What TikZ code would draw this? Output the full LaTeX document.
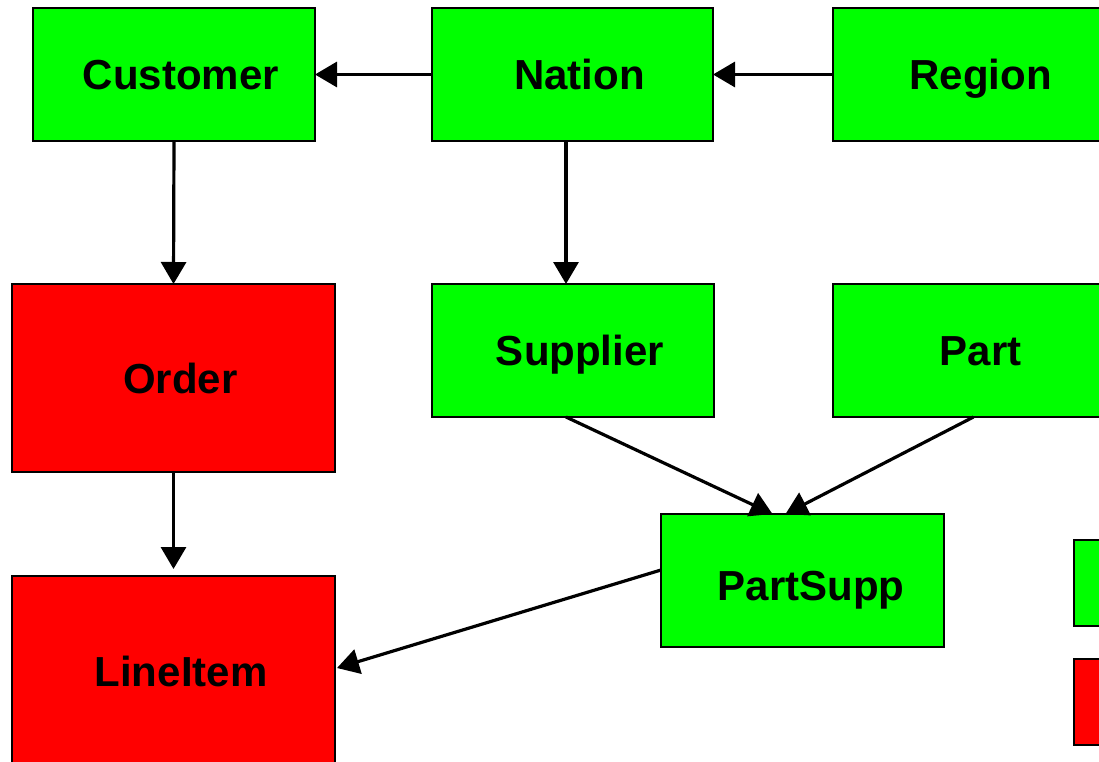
\documentclass[tikz,border=0pt]{standalone}
\usepackage{fontspec}
\setmainfont{Liberation Sans}
\usetikzlibrary{arrows.meta}
\definecolor{tgreen}{RGB}{0,255,0}
\definecolor{tred}{RGB}{255,0,0}
\tikzset{
  box/.style={draw=black, line width=1.3pt, outer sep=0pt, inner sep=0pt,
    font=\fontsize{42}{50}\selectfont\bfseries, anchor=center,
    text height=30pt, text depth=0pt,
    execute at begin node=\hspace*{14pt}},
  gbox/.style={box, fill=tgreen},
  rbox/.style={box, fill=tred},
  lbl/.style={font=\fontsize{42}{50}\selectfont\bfseries, text height=30pt, text depth=0pt, inner sep=0pt},
  conn/.style={line width=3.2pt, -{Triangle[length=22pt,width=25pt]}}
}
\begin{document}
\begin{tikzpicture}[x=1pt,y=-1pt]
\useasboundingbox (0,0) rectangle (1099,762);
\clip (0,0) rectangle (1099,762);
\node[gbox, minimum width=282pt, minimum height=133pt] (cust) at (174,74.5) {Customer};
\node[gbox, minimum width=281pt, minimum height=133pt] (nation) at (572.5,74.5) {Nation};
\node[gbox, minimum width=281pt, minimum height=133pt] (region) at (973.5,74.5) {Region};
\node[rbox, minimum width=323pt, minimum height=188pt] (order) at (173.5,378) {Order};
\node[gbox, minimum width=282pt, minimum height=133pt] (supp) at (573,350.5) {Supplier};
\node[gbox, minimum width=281pt, minimum height=133pt] (part) at (973.5,350.5) {Part};
\node[gbox, minimum width=283pt, minimum height=133pt] (ps) at (802.5,580.5) {};
\node[lbl] (pst) at (811,585) {PartSupp};
\node[rbox, minimum width=323pt, minimum height=200pt] (li) at (173.5,676) {};
\node[lbl] (lit) at (181,671) {LineItem};
\node[box, fill=tgreen, minimum width=60pt, minimum height=86pt, execute at begin node={}] (leg1) at (1104,583) {};
\node[box, fill=tred, minimum width=60pt, minimum height=86pt, execute at begin node={}] (leg2) at (1104,702) {};
\draw[conn] (nation.west) -- (cust.east);
\draw[conn] (region.west) -- (nation.east);
\draw[conn] (cust.south) -- (order.north);
\draw[conn] ([xshift=-6.5pt]nation.south) -- ([xshift=-7pt]supp.north);
\draw[conn] (order.south) -- ([yshift=7pt]li.north);
\draw[conn] ([xshift=-7pt]supp.south) -- ([xshift=-30pt]ps.north);
\draw[conn] (part.south) -- ([xshift=-17pt]ps.north);
\draw[conn] ([yshift=10.5pt]ps.west) -- ([xshift=2pt,yshift=8pt]li.east);
\end{tikzpicture}
\end{document}
